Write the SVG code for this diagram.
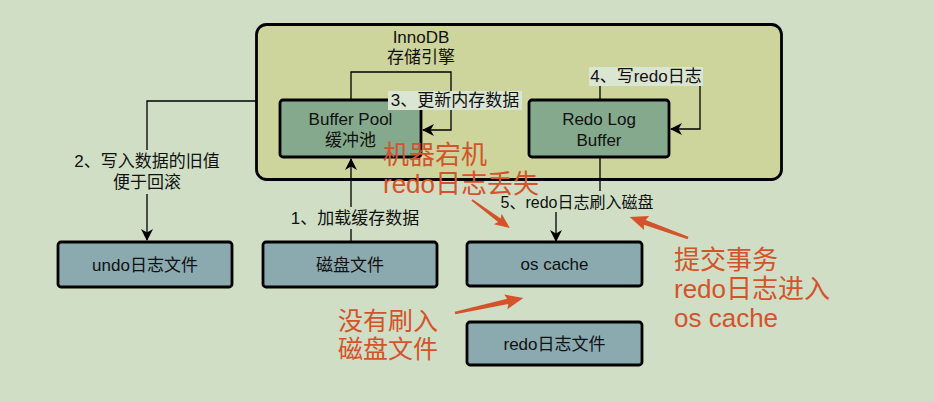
<svg xmlns="http://www.w3.org/2000/svg" width="934" height="401" viewBox="0 0 934 401">
<defs>
<style>
text{font-family:"Liberation Sans","Noto Sans CJK SC",sans-serif;fill:#111}
.bx{font-size:17px;text-anchor:middle}
.lb{font-size:17px;text-anchor:middle}
.red{font-size:26px;fill:#d4532b}
.green{fill:#84a98c;stroke:#000;stroke-width:2.8}
.blue{fill:#8aaab0;stroke:#000;stroke-width:2.8}
.edge{fill:none;stroke:#000;stroke-width:1.3}
.bgp{fill:#cfdec4}
.bgl{fill:#dae5d2}
.ra{fill:#d4532b}
</style>
<marker id="ah" viewBox="0 0 12 12" refX="11" refY="6" markerWidth="12" markerHeight="12" markerUnits="userSpaceOnUse" orient="auto">
<path d="M0,0 L12,6 L0,12 L3.5,6 z" fill="#000"/>
</marker>
</defs>
<rect width="934" height="401" fill="#cfdec4"/>

<g id="innodb">
<rect x="256.5" y="24.5" width="525" height="155" rx="10" fill="#cdd49c" stroke="#000" stroke-width="2.8"/>
<text class="bx" x="421" y="43">InnoDB</text>
<text class="bx" x="421" y="63">存储引擎</text>
</g>

<g id="connectors">
<path class="edge" d="M351,100 V72 H451 V130 H423" marker-end="url(#ah)"/>
<path class="edge" d="M600,100 V76 H700 V129 H671" marker-end="url(#ah)"/>
<path class="edge" d="M256,101 H147 V240" marker-end="url(#ah)"/>
<path class="edge" d="M351,242 V159" marker-end="url(#ah)"/>
<path class="edge" d="M600,157 V203 H556 V241" marker-end="url(#ah)"/>
</g>

<g id="buffer-pool">
<rect class="green" x="280" y="100" width="141" height="57" rx="3"/>
<text class="bx" x="350.5" y="125">Buffer Pool</text>
<text class="bx" x="350.5" y="146">缓冲池</text>
</g>

<g id="redo-log-buffer">
<rect class="green" x="529" y="100" width="140" height="57" rx="3"/>
<text class="bx" x="599" y="125">Redo Log</text>
<text class="bx" x="599" y="146">Buffer</text>
</g>

<g id="undo-file">
<rect class="blue" x="58" y="242" width="174" height="45" rx="3"/>
<text class="bx" x="145" y="271">undo日志文件</text>
</g>

<g id="disk-file">
<rect class="blue" x="263" y="242" width="174" height="45" rx="3"/>
<text class="bx" x="350" y="271">磁盘文件</text>
</g>

<g id="os-cache">
<rect class="blue" x="467" y="242" width="175" height="44" rx="3"/>
<text class="bx" x="554.5" y="270">os cache</text>
</g>

<g id="redo-file">
<rect class="blue" x="467" y="322" width="175" height="43" rx="3"/>
<text class="bx" x="554.5" y="350">redo日志文件</text>
</g>

<g id="edge-labels">
<rect class="bgl" x="388" y="91" width="134" height="19"/>
<text class="lb" x="455" y="106">3、更新内存数据</text>
<rect class="bgl" x="589" y="67" width="114" height="19"/>
<text class="lb" x="646" y="82">4、写redo日志</text>
<rect class="bgp" x="70" y="150" width="154" height="44"/>
<text class="lb" x="147" y="167">2、写入数据的旧值</text>
<text class="lb" x="147" y="188">便于回滚</text>
<rect class="bgp" x="288" y="207" width="134" height="22"/>
<text class="lb" x="355" y="224">1、加载缓存数据</text>
<rect class="bgp" x="499" y="191" width="156" height="21"/>
<text class="lb" x="577" y="208" style="font-size:16px">5、redo日志刷入磁盘</text>
</g>

<g id="annotations">
<text class="red" x="383" y="164">机器宕机</text>
<text class="red" x="383" y="193">redo日志丢失</text>
<g transform="translate(472,200) rotate(36.4)">
<path class="ra" d="M0,-0.9 L34,-2.2 L32,-6.5 L47,0 L32,6.5 L34,2.2 L0,0.9 z"/>
</g>
<text class="red" x="674" y="269">提交事务</text>
<text class="red" x="674" y="298">redo日志进入</text>
<text class="red" x="674" y="327">os cache</text>
<g transform="translate(688,238) rotate(199.9)">
<path class="ra" d="M0,-1.3 L46,-2.6 L44,-7.5 L62,0 L44,7.5 L46,2.6 L0,1.3 z"/>
</g>
<text class="red" x="338" y="330" style="font-size:25px">没有刷入</text>
<text class="red" x="338" y="358" style="font-size:25px">磁盘文件</text>
<g transform="translate(455,313) rotate(-12.4)">
<path class="ra" d="M0,-1.3 L54,-2.6 L52,-7.5 L70,0 L52,7.5 L54,2.6 L0,1.3 z"/>
</g>
</g>
</svg>
